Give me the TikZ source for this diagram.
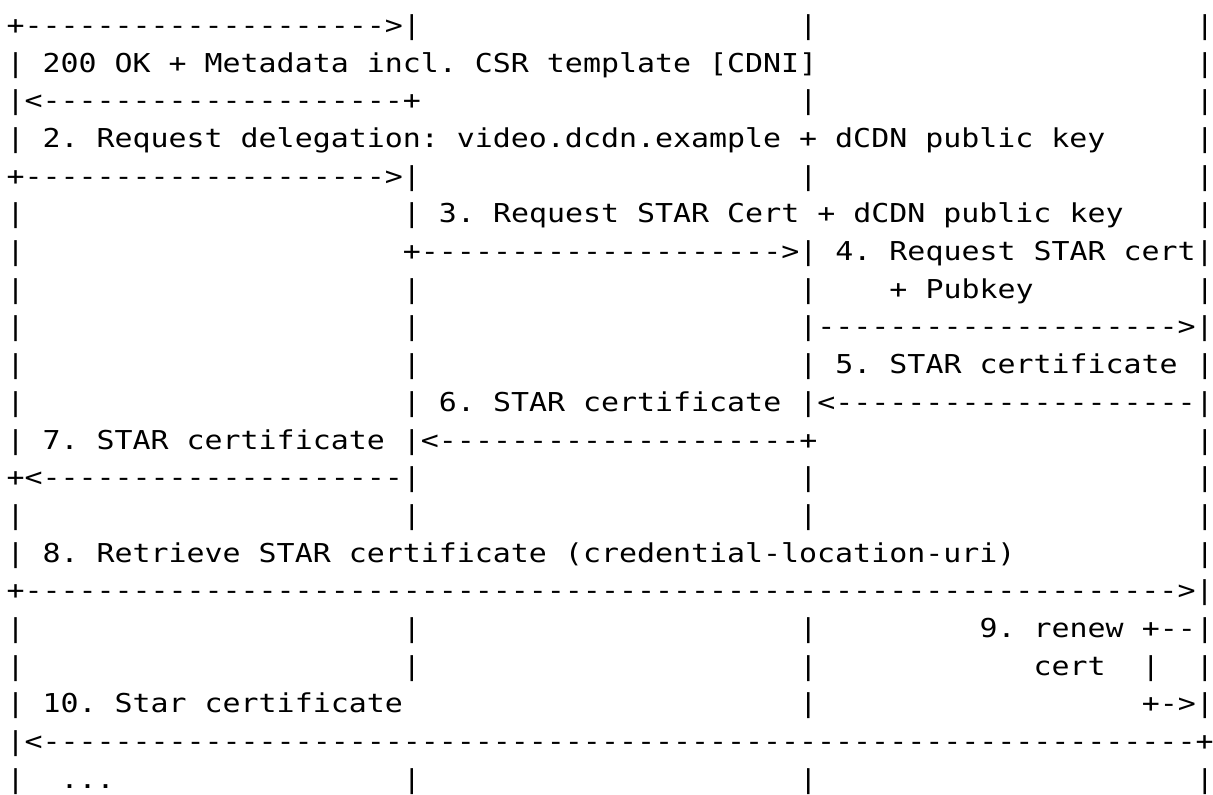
\documentclass[tikz,border=0pt]{standalone}
\usepackage{fontspec}
\setmonofont{DejaVu Sans Mono}[FakeStretch=1.151]
\ExplSyntaxOn
\cs_new:Npn \dsh #1 { \prg_replicate:nn {#1} {-} }
\ExplSyntaxOff
\tikzset{
  asc/.style={anchor=base west, inner sep=0pt, outer sep=0pt,
    font=\ttfamily\fontsize{26}{30}\selectfont, text=black}
}
\newcommand\R[3]{\node[asc] (r#1c#2) at ({6.5+18.02*#2},{-34.3-37.7*(#1-1)}) {#3};}
\begin{document}
\begin{tikzpicture}[x=1pt,y=1pt]
\path[fill=white] (0,0) rectangle (1213,-795);
\useasboundingbox (0,0) rectangle (1213,-795);
% line 1
\R{1}{0}{+\dsh{20}>|}\R{1}{44}{|}\R{1}{66}{|}
% line 2
\R{2}{0}{|}\R{2}{2}{200 OK + Metadata incl. CSR template [CDNI]}\R{2}{66}{|}
% line 3
\R{3}{0}{|<\dsh{20}+}\R{3}{44}{|}\R{3}{66}{|}
% line 4
\R{4}{0}{|}\R{4}{2}{2. Request delegation: video.dcdn.example + dCDN public key}\R{4}{66}{|}
% line 5
\R{5}{0}{+\dsh{20}>|}\R{5}{44}{|}\R{5}{66}{|}
% line 6
\R{6}{0}{|}\R{6}{22}{|}\R{6}{24}{3. Request STAR Cert + dCDN public key}\R{6}{66}{|}
% line 7
\R{7}{0}{|}\R{7}{22}{+\dsh{20}>|}\R{7}{46}{4. Request STAR cert|}
% line 8
\R{8}{0}{|}\R{8}{22}{|}\R{8}{44}{|}\R{8}{49}{+ Pubkey}\R{8}{66}{|}
% line 9
\R{9}{0}{|}\R{9}{22}{|}\R{9}{44}{|\dsh{20}>|}
% line 10
\R{10}{0}{|}\R{10}{22}{|}\R{10}{44}{|}\R{10}{46}{5. STAR certificate}\R{10}{66}{|}
% line 11
\R{11}{0}{|}\R{11}{22}{|}\R{11}{24}{6. STAR certificate}\R{11}{44}{|<\dsh{20}|}
% line 12
\R{12}{0}{|}\R{12}{2}{7. STAR certificate}\R{12}{22}{|<\dsh{20}+}\R{12}{66}{|}
% line 13
\R{13}{0}{+<\dsh{20}|}\R{13}{44}{|}\R{13}{66}{|}
% line 14
\R{14}{0}{|}\R{14}{22}{|}\R{14}{44}{|}\R{14}{66}{|}
% line 15
\R{15}{0}{|}\R{15}{2}{8. Retrieve STAR certificate (credential-location-uri)}\R{15}{66}{|}
% line 16
\R{16}{0}{+\dsh{64}>|}
% line 17
\R{17}{0}{|}\R{17}{22}{|}\R{17}{44}{|}\R{17}{54}{9. renew}\R{17}{63}{+--|}
% line 18
\R{18}{0}{|}\R{18}{22}{|}\R{18}{44}{|}\R{18}{57}{cert}\R{18}{63}{|}\R{18}{66}{|}
% line 19
\R{19}{0}{|}\R{19}{2}{10. Star certificate}\R{19}{44}{|}\R{19}{63}{+->|}
% line 20
\R{20}{0}{|<\dsh{64}+}
% line 21
\R{21}{0}{|}\R{21}{3}{...}\R{21}{22}{|}\R{21}{44}{|}\R{21}{66}{|}
\end{tikzpicture}
\end{document}
